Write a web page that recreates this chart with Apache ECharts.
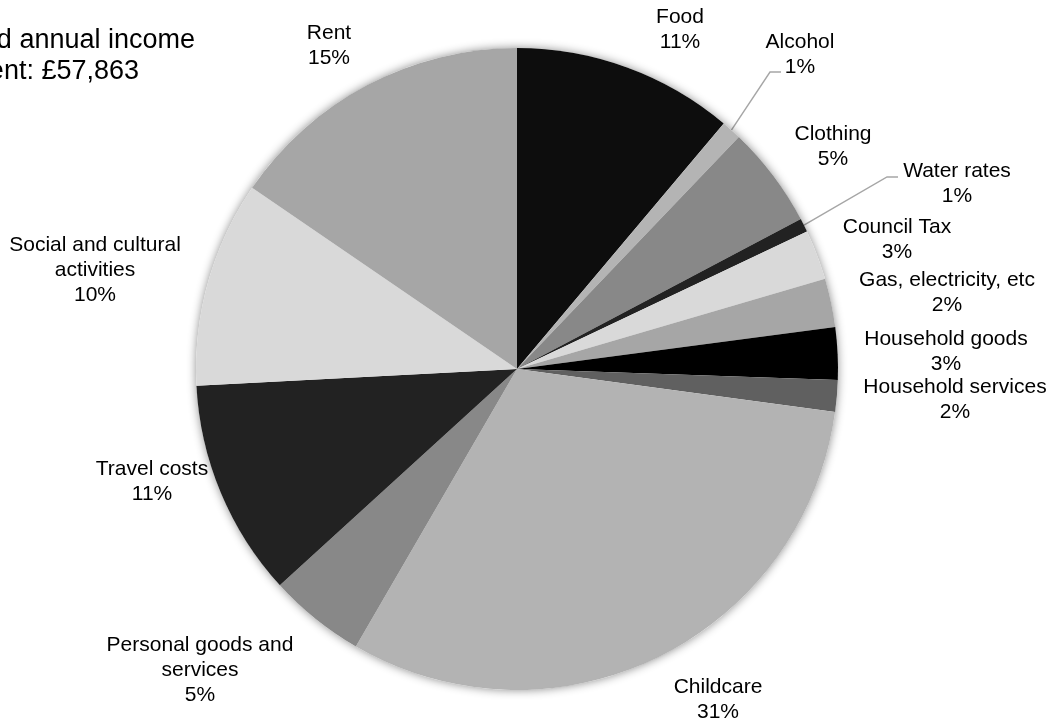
<!DOCTYPE html>
<html>
<head>
<meta charset="utf-8">
<script src="https://cdn.jsdelivr.net/npm/echarts@6/dist/echarts.min.js"></script>
<style>
  html, body { margin: 0; padding: 0; background: #ffffff; }
  #chart { width: 1056px; height: 722px; }
</style>
</head>
<body>
<div id="chart"></div>
<script>
// Budget categories, clockwise from 12 o'clock
const categories = [
  'Food', 'Alcohol', 'Clothing', 'Water rates', 'Council Tax',
  'Gas, electricity, etc', 'Household goods', 'Household services',
  'Childcare', 'Personal goods and\nservices', 'Travel costs',
  'Social and cultural\nactivities', 'Rent'
];
// Share of the annual budget, in percent
const shares = [11.14, 1.00, 5.12, 0.69, 2.52, 2.44, 2.64, 1.59, 31.23, 4.86, 10.94, 10.38, 15.45];
// Grey fill for each slice
const sliceColors = [
  '#0d0d0d', '#b4b4b4', '#888888', '#222222', '#d9d9d9',
  '#a6a6a6', '#000000', '#606060', '#b3b3b3', '#888888',
  '#222222', '#d9d9d9', '#a6a6a6'
];
// Centre of each label block
const labelSpots = [
  [680, 30], [800, 55], [833, 147], [957, 184], [897, 240],
  [947, 293], [946, 352], [955, 400], [718, 700], [200, 670],
  [152, 482], [95, 270], [329, 46]
];
// Labels joined to their slice by a leader line, and where the line meets the text
const guidedLabels = { 'Alcohol': [-19, 17], 'Water rates': [-59, -7] };
const titleLines = ['Required annual income', 'for a lone parent: £57,863'];

const pieCenter = [517, 369];
const pieRadius = 321;

const chart = echarts.init(document.getElementById('chart'), null, { renderer: 'canvas' });

const pieData = categories.map((name, i) => ({
  name: name,
  value: shares[i],
  itemStyle: { color: sliceColors[i] },
  labelLine: { show: name in guidedLabels }
}));

chart.setOption({
  animation: false,
  backgroundColor: '#ffffff',
  textStyle: { fontFamily: 'Liberation Sans, Arial, sans-serif' },
  graphic: [
    {
      type: 'text', x: 195, y: 41, silent: true,
      style: {
        text: titleLines[0], fill: '#000000', align: 'right', verticalAlign: 'middle',
        font: '27px "Liberation Sans", Arial, sans-serif'
      }
    },
    {
      type: 'text', x: 139, y: 72, silent: true,
      style: {
        text: titleLines[1], fill: '#000000', align: 'right', verticalAlign: 'middle',
        font: '27px "Liberation Sans", Arial, sans-serif'
      }
    }
  ],
  series: [
    {
      // soft halo under the pie
      type: 'pie',
      silent: true,
      center: pieCenter,
      radius: pieRadius,
      label: { show: false },
      labelLine: { show: false },
      itemStyle: { color: '#ffffff', shadowBlur: 10, shadowColor: 'rgba(0,0,0,0.45)' },
      data: [{ value: 1, name: '' }]
    },
    {
      type: 'pie',
      center: pieCenter,
      radius: pieRadius,
      startAngle: 90,
      clockwise: true,
      avoidLabelOverlap: false,
      emphasis: { disabled: true },
      data: pieData,
      label: {
        show: true,
        position: 'outside',
        color: '#000000',
        fontSize: 21,
        lineHeight: 25,
        fontFamily: 'Liberation Sans, Arial, sans-serif',
        align: 'center',
        formatter: (p) => p.name + '\n' + Math.round(p.percent) + '%'
      },
      labelLine: {
        show: false,
        length: 10,
        length2: 10,
        lineStyle: { color: '#a6a6a6', width: 1.4 }
      },
      labelLayout: (params) => {
        const i = params.dataIndex;
        const spot = labelSpots[i];
        const out = { x: spot[0], y: spot[1], align: 'center', verticalAlign: 'middle', hideOverlap: false };
        const off = guidedLabels[categories[i]];
        if (off && params.labelLinePoints) {
          const anchor = params.labelLinePoints[0];
          const end = [spot[0] + off[0], spot[1] + off[1]];
          out.labelLinePoints = [anchor, [end[0] - 11, end[1]], end];
        }
        return out;
      }
    }
  ]
});
</script>
</body>
</html>
